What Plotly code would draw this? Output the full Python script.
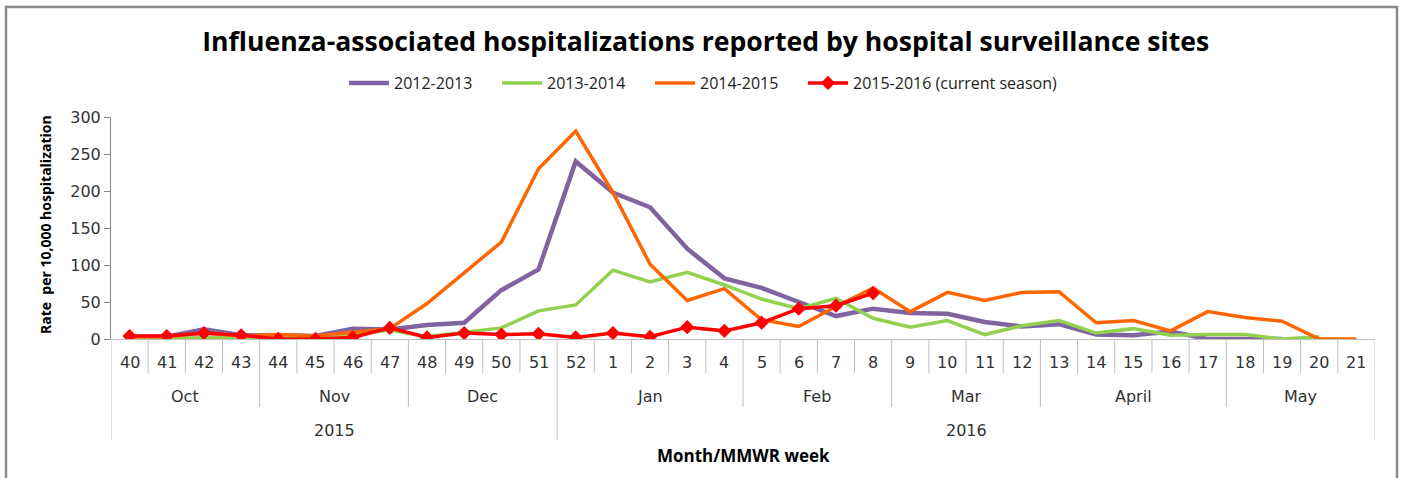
import plotly.graph_objects as go

weeks = ["40", "41", "42", "43", "44", "45", "46", "47", "48", "49", "50", "51", "52",
         "1", "2", "3", "4", "5", "6", "7", "8", "9", "10", "11", "12", "13", "14",
         "15", "16", "17", "18", "19", "20", "21"]
months = ["Oct", "Nov", "Dec", "Jan", "Feb", "Mar", "April", "May"]
month_weeks = [4, 4, 4, 5, 4, 4, 5, 4]
years = ["2015", "2016"]
year_weeks = [12, 22]

s2012 = [3, 3, 13, 5, 5, 4, 14, 13, 19, 22, 66, 94, 240, 198, 178, 122, 82, 69, 50, 31, 41,
         35, 34, 23, 17, 20, 6, 5, 10, 0, 0, 0, None, None]
s2013 = [1, 1, 2, 2, 3, 3, 6, 12, 3, 9, 15, 38, 46, 93, 77, 90, 73, 54, 41, 55, 28,
         16, 25, 6, 18, 25, 8, 14, 5, 6, 6, 0, 3, None]
s2014 = [3, 3, 8, 4, 6, 4, 9, 14, 48, 89, 131, 230, 281, 198, 101, 52, 68, 26, 17, 44, 69,
         37, 63, 52, 63, 64, 22, 25, 11, 37, 29, 24, 0, 0]
s2015 = [4, 4, 8, 5, 0, 0, 2, 15, 2, 8, 6, 7, 2, 8, 3, 16, 11, 22, 41, 45, 62]

names = ["2012-2013", "2013-2014", "2014-2015", "2015-2016 (current season)"]
colors = ["#8064A2", "#92D050", "#FF6600", "#FF0000"]
widths = [4.5, 3.5, 3.5, 3.5]
legend_widths = [98, 98, 98, 215]

FONT = "Open Sans"
TICKFONT = "DejaVu Sans"
n = len(weeks)
xs = [i + 0.5 for i in range(n)]

fig = go.Figure()
for name, vals, col, w, lw in zip(names, [s2012, s2013, s2014, s2015], colors, widths, legend_widths):
    is_cur = name.startswith("2015")
    fig.add_trace(go.Scatter(
        x=xs[:len(vals)], y=vals, name=name,
        mode="lines+markers" if is_cur else "lines",
        line=dict(color=col, width=w),
        marker=dict(symbol="diamond", size=11, color=col),
        connectgaps=False, legendwidth=lw,
    ))

# plot-area pixel geometry
L, R, T, B = 111, 1375, 117, 339
H = B - T


def py(px):
    return (B - px) / H


def pxx(px):
    return (px - L) / (R - L)


shapes = []
annotations = []
# separators
month_bounds = set()
acc = 0
for c in month_weeks:
    acc += c
    month_bounds.add(acc)
year_bounds = {0}
acc = 0
for c in year_weeks:
    acc += c
    year_bounds.add(acc)
for i in range(n + 1):
    if i in year_bounds:
        yb = py(440)
    elif i in month_bounds:
        yb = py(407)
    else:
        yb = py(373)
    shapes.append(dict(type="line", xref="x", yref="paper", x0=i, x1=i, y0=0, y1=yb,
                       line=dict(color="#BFBFBF", width=1)))

tickfont = dict(family=TICKFONT, size=16, color="#333333")
for i, w in enumerate(weeks):
    annotations.append(dict(x=i + 0.5, y=py(362), xref="x", yref="paper", text=w,
                            showarrow=False, font=tickfont, yanchor="middle"))
acc = 0
for m, c in zip(months, month_weeks):
    annotations.append(dict(x=acc + c / 2, y=py(396), xref="x", yref="paper", text=m,
                            showarrow=False, font=tickfont, yanchor="middle"))
    acc += c
acc = 0
for yr, c in zip(years, year_weeks):
    annotations.append(dict(x=acc + c / 2, y=py(430), xref="x", yref="paper", text=yr,
                            showarrow=False, font=tickfont, yanchor="middle"))
    acc += c
annotations.append(dict(x=n / 2, y=py(455), xref="x", yref="paper",
                        text="<b>Month/MMWR week</b>", showarrow=False,
                        font=dict(family=FONT, size=17, color="#000000"), yanchor="middle"))
annotations.append(dict(x=pxx(45), y=py(225), xref="paper", yref="paper",
                        text="<b>Rate  per 10,000 hospitalization</b>", textangle=-90,
                        showarrow=False, font=dict(family=FONT, size=14, color="#000000"),
                        xanchor="center", yanchor="middle"))

# outer frame (open at bottom)
shapes.append(dict(type="path", xref="paper", yref="paper",
                   path=f"M {pxx(6)},{py(520)} L {pxx(6)},{py(7)} L {pxx(1397)},{py(7)} L {pxx(1397)},{py(520)}",
                   line=dict(color="#8A8A8A", width=2.5)))

fig.update_layout(
    width=1403, height=478,
    margin=dict(l=L, r=1403 - R, t=T, b=478 - B),
    paper_bgcolor="white", plot_bgcolor="white",
    title=dict(text="<b>Influenza-associated hospitalizations reported by hospital surveillance sites</b>",
               x=0.503, xref="container", xanchor="center", y=1 - 42 / 478, yref="container",
               yanchor="middle", font=dict(family=FONT, size=26.6, color="#000000")),
    legend=dict(orientation="h", x=pxx(344), xanchor="left", y=py(83), yanchor="middle",
                font=dict(family=FONT, size=16, color="#222222"), bgcolor="rgba(0,0,0,0)",
                itemwidth=40),
    xaxis=dict(range=[0, n], showticklabels=False, ticks="", showgrid=False, zeroline=False,
               showline=True, linecolor="#BFBFBF", linewidth=1, fixedrange=True),
    yaxis=dict(range=[0, 300], tickvals=[0, 50, 100, 150, 200, 250, 300], showgrid=False,
               zeroline=False, showline=True, linecolor="#868686", linewidth=1,
               ticks="outside", ticklen=6, tickcolor="#868686",
               tickfont=dict(family=TICKFONT, size=16, color="#333333")),
    shapes=shapes, annotations=annotations,
    showlegend=True,
)

fig.write_html("out.html", config={"displayModeBar": False},
               post_script="document.body.style.margin='0';document.body.style.overflow='hidden';")
